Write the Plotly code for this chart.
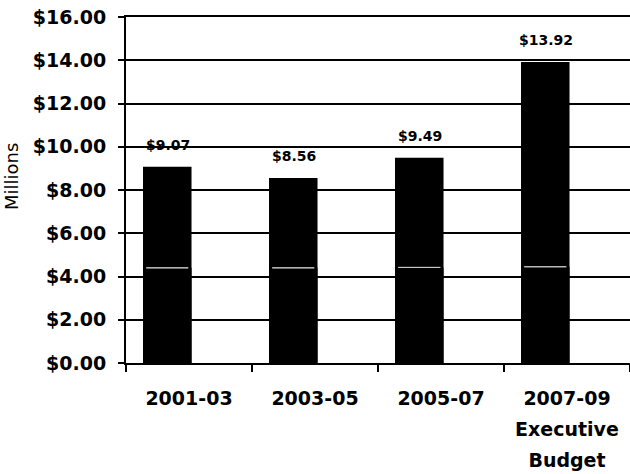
import plotly.graph_objects as go

categories = ["2001-03", "2003-05", "2005-07", "2007-09<br>Executive<br>Budget"]
totals = [9.07, 8.56, 9.49, 13.92]
lower_segment = [4.40, 4.40, 4.42, 4.45]
labels = ["$9.07", "$8.56", "$9.49", "$13.92"]
y_ticks = [0, 2, 4, 6, 8, 10, 12, 14, 16]

BAR_W = 0.385
BAR_OFF = -0.365


def small_lines(label):
    return "<br>".join(f"<span style='font-size:19px'>{p}</span>" for p in label.split("<br>"))


fig = go.Figure()
fig.add_trace(go.Bar(
    x=categories, y=totals, width=BAR_W, offset=BAR_OFF,
    marker=dict(color="black", line=dict(width=0)),
    hoverinfo="skip", showlegend=False,
))
# thin light line where the lower segment ends (cap of a zero-length error bar)
fig.add_trace(go.Bar(
    x=categories, y=lower_segment, width=BAR_W, offset=BAR_OFF,
    marker=dict(color="black", line=dict(width=0)),
    error_y=dict(type="data", array=[0] * len(categories), width=21,
                 color="#c8c8c8", thickness=1),
    hoverinfo="skip", showlegend=False,
))

for c, v, t in zip(categories, totals, labels):
    fig.add_annotation(
        x=c, y=v, text=t, showarrow=False, xref="x", yref="y",
        yanchor="bottom", yshift=12, xshift=-21,
        font=dict(family="DejaVu Sans", size=14, color="black", weight="bold"),
    )

fig.add_annotation(
    text="Millions", textangle=-90, showarrow=False,
    xref="paper", yref="paper", x=-0.226, y=0.538,
    xanchor="center", yanchor="middle",
    font=dict(family="DejaVu Sans", size=18, color="black"),
)

fig.update_layout(
    width=630, height=474,
    margin=dict(l=126, r=0, t=17, b=111),
    paper_bgcolor="white", plot_bgcolor="white",
    barmode="overlay", bargap=0.2,
    showlegend=False,
)
fig.update_yaxes(
    automargin=False,
    range=[0, 16], tickvals=y_ticks, tickformat="$.2f",
    showgrid=True, gridcolor="black", gridwidth=2,
    showline=True, linecolor="black", linewidth=2,
    ticks="outside", ticklen=6, tickwidth=2, tickcolor="black",
    ticklabelstandoff=8,
    tickfont=dict(family="DejaVu Sans", size=19, color="black", weight="bold"),
    zeroline=False,
)
fig.update_xaxes(
    automargin=False,
    type="category",
    tickmode="array", tickvals=categories,
    ticktext=[small_lines(c) for c in categories],
    showline=True, mirror=True, linecolor="black", linewidth=2,
    ticks="outside", tickson="boundaries", ticklen=7, tickwidth=2, tickcolor="black",
    ticklabelstandoff=11,
    tickfont=dict(family="DejaVu Sans", size=24, color="black", weight="bold"),
)

fig.write_html(
    "out.html",
    config={"displayModeBar": False},
    post_script="document.body.style.margin='0';document.body.style.overflow='hidden';",
)
